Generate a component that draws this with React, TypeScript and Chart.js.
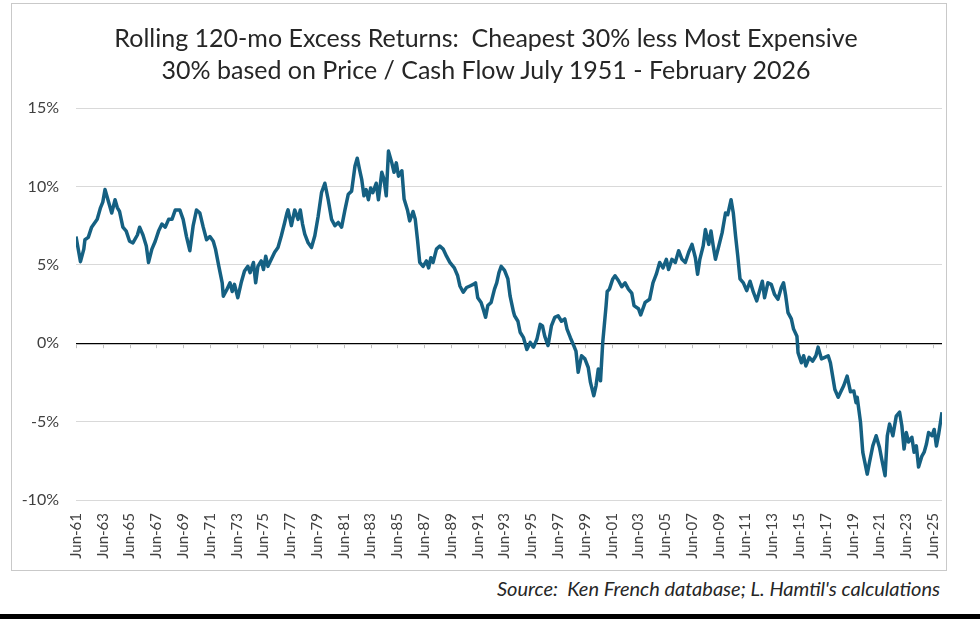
import { useEffect, useRef } from "react";
import { Chart, registerables } from "chart.js";

Chart.register(...registerables);

// ---- text ----
const titleLines = [
  "Rolling 120-mo Excess Returns:  Cheapest 30% less Most Expensive",
  "30% based on Price / Cash Flow July 1951 - February 2026",
];
const sourceNote = "Source:  Ken French database; L. Hamtil's calculations";

// ---- axis ticks ----
const xTickLabels = [
  "Jun-61", "Jun-63", "Jun-65", "Jun-67", "Jun-69", "Jun-71", "Jun-73", "Jun-75",
  "Jun-77", "Jun-79", "Jun-81", "Jun-83", "Jun-85", "Jun-87", "Jun-89", "Jun-91",
  "Jun-93", "Jun-95", "Jun-97", "Jun-99", "Jun-01", "Jun-03", "Jun-05", "Jun-07",
  "Jun-09", "Jun-11", "Jun-13", "Jun-15", "Jun-17", "Jun-19", "Jun-21", "Jun-23",
  "Jun-25",
];
const yTickValues = [-10, -5, 0, 5, 10, 15];

const firstMonth = "1961-06";
const lastMonth = "2026-02";

// ---- rolling 120-month excess return (%), value minus growth on P/CF ----
const obs1960s: [string, number][] = [
  ["1961-06", 6.8], ["1961-10", 5.2], ["1962-01", 6.0], ["1962-02", 6.6], ["1962-05", 6.75],
  ["1962-08", 7.4], ["1963-01", 7.9], ["1963-04", 8.65], ["1963-06", 9.0], ["1963-08", 9.8],
  ["1963-11", 9.05], ["1964-02", 8.3], ["1964-05", 9.15], ["1964-07", 8.65], ["1964-09", 8.4],
  ["1964-12", 7.4], ["1965-03", 7.15], ["1965-06", 6.5], ["1965-09", 6.4], ["1966-01", 6.9],
  ["1966-03", 7.4], ["1966-06", 6.9], ["1966-09", 6.2], ["1966-11", 5.15], ["1967-02", 6.0],
  ["1967-05", 6.5], ["1967-08", 7.15], ["1967-11", 7.6], ["1968-02", 7.4], ["1968-05", 7.9],
  ["1968-08", 7.9], ["1968-11", 8.5], ["1969-03", 8.5], ["1969-06", 7.9], ["1969-09", 6.8],
  ["1969-12", 5.9],
];

const obs1970s: [string, number][] = [
  ["1970-03", 7.5], ["1970-06", 8.5], ["1970-09", 8.3], ["1970-12", 7.4], ["1971-03", 6.6],
  ["1971-06", 6.8], ["1971-09", 6.5], ["1971-11", 6.0], ["1972-02", 4.9], ["1972-05", 3.85],
  ["1972-06", 3.0], ["1972-09", 3.4], ["1972-12", 3.85], ["1973-02", 3.3], ["1973-04", 3.75],
  ["1973-07", 2.9], ["1973-10", 3.85], ["1974-01", 4.6], ["1974-04", 4.9], ["1974-06", 4.5],
  ["1974-09", 5.15], ["1974-11", 3.85], ["1975-01", 4.9], ["1975-04", 5.25], ["1975-06", 4.7],
  ["1975-08", 5.55], ["1975-10", 4.9], ["1976-01", 5.35], ["1976-04", 5.8], ["1976-07", 6.1],
  ["1976-10", 6.85], ["1977-01", 7.7], ["1977-03", 8.3], ["1977-04", 8.5], ["1977-07", 7.5],
  ["1977-10", 8.5], ["1978-01", 7.9], ["1978-03", 8.5], ["1978-05", 7.6], ["1978-07", 6.95],
  ["1978-10", 6.4], ["1979-01", 6.1], ["1979-04", 6.85], ["1979-07", 8.1], ["1979-10", 9.6],
];

const obs1980s: [string, number][] = [
  ["1980-01", 10.2], ["1980-04", 9.15], ["1980-07", 7.9], ["1980-10", 7.5], ["1981-01", 7.7],
  ["1981-04", 7.4], ["1981-07", 8.5], ["1981-10", 9.5], ["1982-01", 9.7], ["1982-04", 11.3],
  ["1982-06", 11.8], ["1982-08", 11.1], ["1982-10", 10.45], ["1982-12", 9.4], ["1983-02", 9.8],
  ["1983-04", 9.15], ["1983-06", 9.9], ["1983-08", 9.6], ["1983-11", 10.2], ["1984-01", 9.15],
  ["1984-04", 10.9], ["1984-06", 10.45], ["1984-08", 9.4], ["1984-10", 12.25], ["1985-01", 11.5],
  ["1985-03", 10.9], ["1985-05", 11.5], ["1985-07", 10.65], ["1985-10", 11.0], ["1985-12", 9.2],
  ["1986-03", 8.5], ["1986-05", 7.8], ["1986-08", 8.4], ["1986-10", 7.9], ["1986-12", 6.6],
  ["1987-02", 5.15], ["1987-05", 4.9], ["1987-08", 5.25], ["1987-10", 4.8], ["1987-12", 5.45],
  ["1988-02", 5.15], ["1988-05", 6.0], ["1988-08", 6.2], ["1988-11", 6.0], ["1989-02", 5.55],
  ["1989-05", 5.15], ["1989-09", 4.8], ["1989-12", 4.3],
];

const obs1990s: [string, number][] = [
  ["1990-02", 3.65], ["1990-05", 3.25], ["1990-08", 3.55], ["1990-11", 3.65], ["1991-02", 3.75],
  ["1991-04", 3.85], ["1991-06", 2.9], ["1991-09", 2.6], ["1991-11", 2.15], ["1992-01", 1.65],
  ["1992-03", 2.4], ["1992-06", 2.6], ["1992-09", 3.45], ["1992-11", 3.85], ["1993-01", 4.5],
  ["1993-03", 4.9], ["1993-06", 4.65], ["1993-09", 4.1], ["1993-11", 3.0], ["1994-02", 2.0],
  ["1994-03", 1.75], ["1994-06", 1.4], ["1994-08", 0.7], ["1994-11", 0.35], ["1995-02", -0.4],
  ["1995-05", 0.05], ["1995-08", -0.25], ["1995-11", 0.25], ["1996-02", 1.2], ["1996-04", 1.1],
  ["1996-06", 0.45], ["1996-09", -0.15], ["1996-12", 1.1], ["1997-03", 1.65], ["1997-06", 1.75],
  ["1997-09", 1.4], ["1997-12", 1.55], ["1998-02", 0.9], ["1998-05", 0.35], ["1998-08", -0.15],
  ["1998-10", -0.5], ["1998-12", -1.85], ["1999-03", -0.8], ["1999-06", -1.0], ["1999-09", -1.55],
  ["1999-11", -2.5],
];

const obs2000s: [string, number][] = [
  ["2000-02", -3.35], ["2000-04", -2.7], ["2000-06", -1.65], ["2000-08", -2.4], ["2000-10", 0.05],
  ["2001-01", 2.4], ["2001-02", 3.3], ["2001-04", 3.45], ["2001-07", 4.1], ["2001-09", 4.3],
  ["2001-12", 4.0], ["2002-03", 3.6], ["2002-06", 3.85], ["2002-09", 3.45], ["2002-12", 3.2],
  ["2003-02", 2.4], ["2003-06", 2.2], ["2003-08", 1.8], ["2003-12", 2.6], ["2004-04", 2.8],
  ["2004-07", 3.85], ["2004-10", 4.4], ["2005-01", 5.15], ["2005-04", 4.8], ["2005-07", 5.35],
  ["2005-09", 4.7], ["2005-12", 5.35], ["2006-03", 5.15], ["2006-06", 5.9], ["2006-09", 5.35],
  ["2006-12", 5.15], ["2007-03", 5.8], ["2007-06", 6.3], ["2007-09", 5.45], ["2007-11", 4.4],
  ["2008-01", 5.35], ["2008-04", 6.2], ["2008-06", 7.25], ["2008-09", 6.3], ["2008-11", 7.15],
  ["2009-01", 6.2], ["2009-03", 5.35], ["2009-06", 6.2], ["2009-09", 7.05], ["2009-12", 8.3],
];

const obs2010s: [string, number][] = [
  ["2010-02", 8.2], ["2010-05", 9.15], ["2010-07", 8.3], ["2010-09", 6.85], ["2010-11", 5.55],
  ["2011-01", 4.1], ["2011-04", 3.85], ["2011-07", 3.35], ["2011-10", 3.95], ["2012-01", 3.25],
  ["2012-04", 2.7], ["2012-07", 3.45], ["2012-09", 3.95], ["2012-11", 2.9], ["2013-02", 3.85],
  ["2013-05", 3.75], ["2013-08", 3.1], ["2013-11", 2.8], ["2014-02", 3.55], ["2014-04", 3.85],
  ["2014-06", 3.0], ["2014-08", 1.95], ["2014-11", 1.55], ["2015-01", 0.9], ["2015-04", 0.45],
  ["2015-05", -0.6], ["2015-08", -1.25], ["2015-10", -0.8], ["2015-12", -1.45], ["2016-03", -0.9],
  ["2016-06", -1.15], ["2016-09", -0.8], ["2016-11", -0.25], ["2017-02", -1.0], ["2017-05", -0.9],
  ["2017-08", -0.8], ["2017-10", -1.25], ["2017-12", -2.1], ["2018-02", -2.95], ["2018-05", -3.45],
  ["2018-07", -3.15], ["2018-10", -2.7], ["2019-01", -2.1], ["2019-04", -3.1], ["2019-07", -3.05],
  ["2019-09", -3.8], ["2019-10", -3.45],
];

const obs2020s: [string, number][] = [
  ["2020-01", -5.05], ["2020-03", -6.95], ["2020-04", -7.3], ["2020-07", -8.35], ["2020-09", -7.6],
  ["2020-12", -6.55], ["2021-03", -5.9], ["2021-06", -6.65], ["2021-08", -7.4], ["2021-11", -8.45],
  ["2022-01", -5.9], ["2022-03", -5.15], ["2022-06", -5.9], ["2022-09", -4.65], ["2022-12", -4.4],
  ["2023-02", -5.25], ["2023-04", -6.75], ["2023-06", -5.7], ["2023-08", -6.3], ["2023-11", -6.0],
  ["2024-01", -6.95], ["2024-03", -6.55], ["2024-05", -7.9], ["2024-08", -7.2], ["2024-10", -6.95],
  ["2024-12", -6.45], ["2025-02", -5.7], ["2025-05", -5.9], ["2025-07", -5.5], ["2025-09", -6.55],
  ["2025-11", -5.8], ["2026-02", -4.4],
];

// months elapsed since the first rolling window end (Jun 1961)
function monthsSinceStart(ym: string): number {
  const [y, m] = ym.split("-").map(Number);
  const [y0, m0] = firstMonth.split("-").map(Number);
  return (y - y0) * 12 + (m - m0);
}

const LINE_COLOR = "#156082";
const FONT = "Lato, 'Liberation Sans', Arial, sans-serif";

// small tick marks hanging below the zero line at each labelled date
const zeroLineTicks = {
  id: "zeroLineTicks",
  beforeDatasetsDraw(chart: any) {
    const xs = chart.scales.x;
    const ys = chart.scales.y;
    const y0 = ys.getPixelForValue(0);
    const ctx = chart.ctx;
    ctx.save();
    ctx.strokeStyle = "#bfbfbf";
    ctx.lineWidth = 1;
    xs.ticks.forEach((t: any) => {
      const px = Math.round(xs.getPixelForValue(t.value)) + 0.5;
      ctx.beginPath();
      ctx.moveTo(px, y0 + 1);
      ctx.lineTo(px, y0 + 5);
      ctx.stroke();
    });
    ctx.restore();
  },
};

function ExcessReturnChart() {
  const canvasRef = useRef<HTMLCanvasElement | null>(null);

  useEffect(() => {
    const canvas = canvasRef.current;
    if (!canvas) return;

    const points = [...obs1960s, ...obs1970s, ...obs1980s, ...obs1990s, ...obs2000s, ...obs2010s, ...obs2020s].map(
      ([d, v]) => ({ x: monthsSinceStart(d), y: v })
    );

    const chart = new Chart(canvas, {
      type: "line",
      data: {
        datasets: [
          {
            data: points,
            borderColor: LINE_COLOR,
            borderWidth: 3.5,
            pointRadius: 0,
            tension: 0,
            borderJoinStyle: "round",
            fill: false,
          },
        ],
      },
      options: {
        animation: false,
        responsive: false,
        maintainAspectRatio: false,
        layout: { padding: { top: 104, right: 4, left: 0, bottom: 0 } },
        plugins: { legend: { display: false }, tooltip: { enabled: false }, title: { display: false } },
        scales: {
          x: {
            type: "linear",
            min: 0,
            max: monthsSinceStart(lastMonth),
            afterBuildTicks: (scale: any) => {
              scale.ticks = xTickLabels.map((_, i) => ({ value: i * 24 }));
            },
            afterFit: (scale: any) => {
              scale.height = 70;
              scale.paddingLeft = 0;
              scale.paddingRight = 0;
            },
            grid: { display: false, drawTicks: false },
            border: { display: false },
            ticks: {
              autoSkip: false,
              maxRotation: 90,
              minRotation: 90,
              padding: 13,
              color: "#404040",
              font: { family: FONT, size: 15 },
              callback: (v: any) => xTickLabels[Math.round(Number(v) / 24)] ?? "",
            },
          },
          y: {
            min: -10,
            max: 15,
            afterBuildTicks: (scale: any) => {
              scale.ticks = yTickValues.map((v) => ({ value: v }));
            },
            afterFit: (scale: any) => {
              scale.width = 64;
              scale.paddingTop = 0;
              scale.paddingBottom = 0;
            },
            border: { display: false },
            grid: {
              drawTicks: false,
              color: (ctx: any) => (ctx.tick && ctx.tick.value === 0 ? "#000000" : "#d9d9d9"),
              lineWidth: (ctx: any) => (ctx.tick && ctx.tick.value === 0 ? 1.3 : 1),
            },
            ticks: {
              padding: 17,
              color: "#404040",
              font: { family: FONT, size: 16 },
              callback: (v: any) => `${v}%`,
            },
          },
        },
      },
      plugins: [zeroLineTicks],
    });

    return () => chart.destroy();
  }, []);

  return <canvas ref={canvasRef} width={934} height={566} style={{ display: "block" }} />;
}

export default function App() {
  return (
    <div
      style={{
        position: "absolute",
        left: 0,
        top: 0,
        width: 980,
        height: 619,
        background: "#ffffff",
        overflow: "hidden",
        fontFamily: FONT,
      }}
    >
      <div
        style={{
          position: "absolute",
          left: 11,
          top: 3,
          width: 934,
          height: 566,
          border: "1px solid #c9c9c9",
        }}
      >
        <ExcessReturnChart />
      </div>
      <div
        style={{
          position: "absolute",
          left: 0,
          top: 21,
          width: 972,
          textAlign: "center",
          fontSize: 25,
          lineHeight: "32px",
          color: "#262626",
          whiteSpace: "pre",
        }}
      >
        {titleLines.map((t) => (
          <div key={t}>{t}</div>
        ))}
      </div>
      <div
        style={{
          position: "absolute",
          right: 40,
          top: 576,
          fontSize: 20,
          fontStyle: "italic",
          color: "#262626",
          whiteSpace: "pre",
        }}
      >
        {sourceNote}
      </div>
      <div style={{ position: "absolute", left: 0, top: 614, width: 980, height: 5, background: "#000000" }} />
    </div>
  );
}
